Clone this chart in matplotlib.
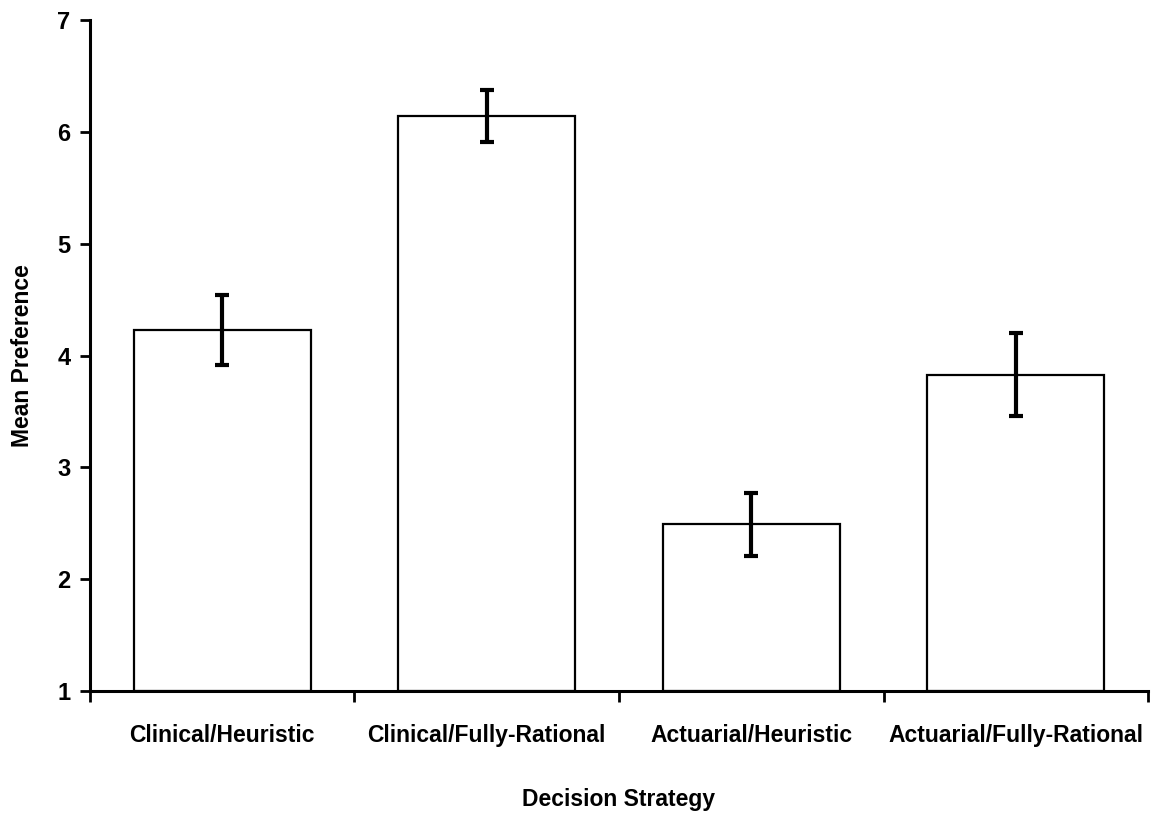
import numpy as np
import matplotlib
matplotlib.use('Agg')
import matplotlib.pyplot as plt

plt.rcParams['font.family'] = ['Liberation Sans', 'DejaVu Sans']
plt.rcParams['font.weight'] = 'bold'

# data
categories = ['Clinical/Heuristic', 'Clinical/Fully-Rational',
              'Actuarial/Heuristic', 'Actuarial/Fully-Rational']
means = [4.23, 6.14, 2.49, 3.83]
errors = [0.31, 0.23, 0.28, 0.37]
yticks = [1, 2, 3, 4, 5, 6, 7]

fig = plt.figure(figsize=(11.58, 8.14), dpi=100)
ax = fig.add_axes([0.0777, 0.151, 0.9137, 0.8244])

x = np.arange(len(categories))
ax.bar(x, np.array(means) - 1, bottom=1, width=0.67, color='white',
       edgecolor='black', linewidth=1.6, zorder=2)
ax.errorbar(x, means, yerr=errors, fmt='none', ecolor='black',
            elinewidth=3, capsize=5, capthick=3, zorder=3)

ax.set_xlim(-0.5, 3.5)
ax.set_ylim(1, 7)
ax.set_yticks(yticks)
ax.set_xticks(x)
ax.set_xticklabels(categories, fontsize=16.5, fontweight='bold')
# category boundary ticks on the x axis
ax.set_xticks(np.arange(-0.5, 4, 1), minor=True)
ax.tick_params(axis='x', which='major', length=0, pad=24)
ax.tick_params(axis='x', which='minor', length=8, width=2, direction='out')
ax.tick_params(axis='y', length=7, width=2, direction='out', labelsize=17, pad=7)
for lab in ax.get_yticklabels():
    lab.set_fontweight('bold')

for s in ['top', 'right']:
    ax.spines[s].set_visible(False)
for s in ['left', 'bottom']:
    ax.spines[s].set_linewidth(2.2)

ax.set_xlabel('Decision Strategy', fontsize=16.5, fontweight='bold', labelpad=29)
ax.set_ylabel('Mean Preference', fontsize=16.5, fontweight='bold', labelpad=17)

fig.savefig('out.png', dpi=100)
